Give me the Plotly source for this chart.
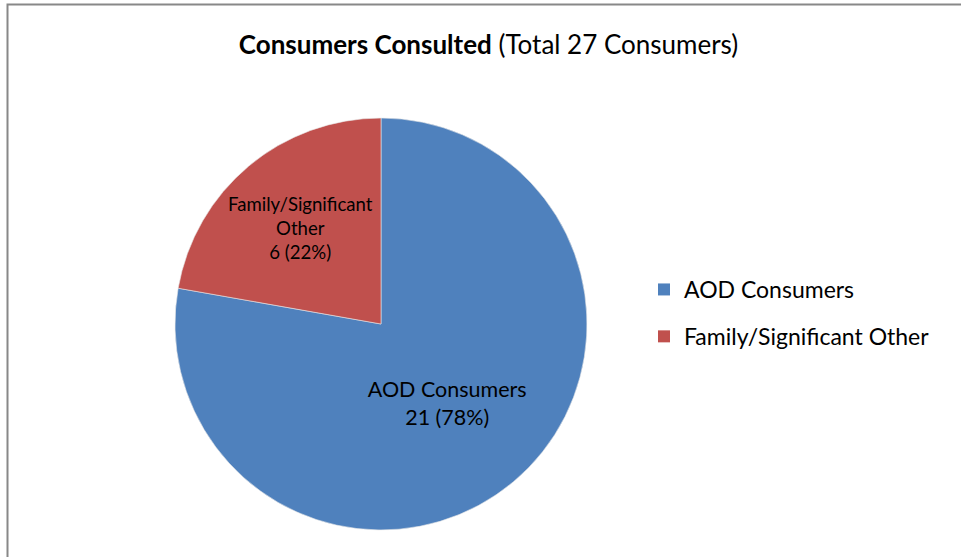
import plotly.graph_objects as go

categories = ["AOD Consumers", "Family/Significant Other"]
values = [21, 6]
slice_labels = ["AOD Consumers", "Family/Significant<br>Other"]
colors = ["#4F81BD", "#C0504D"]

W, H = 961, 557
cx, cy, r = 381, 324, 206
FONT = "Lato, Open Sans, sans-serif"

fig = go.Figure()
fig.add_trace(go.Pie(
    labels=categories,
    values=values,
    text=slice_labels,
    sort=False,
    direction="clockwise",
    rotation=0,
    showlegend=False,
    marker=dict(colors=colors, line=dict(color="#E8E8E8", width=0.6)),
    texttemplate="%{text}<br>%{value} (%{percent:.0%})",
    textposition="inside",
    insidetextorientation="horizontal",
    textfont=dict(family=FONT, size=21.5, color="#000000"),
    domain=dict(x=[(cx - r) / W, (cx + r) / W], y=[1 - (cy + r) / H, 1 - (cy - r) / H]),
    hoverinfo="label+value+percent",
))

# legend entries built from the categories
for i, (cat, col) in enumerate(zip(categories, colors)):
    fig.add_trace(go.Scatter(
        x=[None], y=[None], mode="markers", name=cat, legendgroup=f"g{i}",
        marker=dict(symbol="square", size=12, color=col),
        showlegend=True, hoverinfo="skip",
    ))

fig.update_layout(
    width=W, height=H,
    margin=dict(l=0, r=0, t=0, b=0),
    paper_bgcolor="white",
    plot_bgcolor="white",
    xaxis=dict(visible=False),
    yaxis=dict(visible=False),
    title=dict(
        text="<b>Consumers Consulted</b> (Total 27 Consumers)",
        x=488.5 / W, xanchor="center", y=1 - 45 / H, yanchor="middle",
        font=dict(family=FONT, size=26, color="#000000"),
    ),
    legend=dict(
        x=644 / W, xanchor="left", y=1 - 313 / H, yanchor="middle",
        font=dict(family=FONT, size=23, color="#000000"),
        itemsizing="constant", tracegroupgap=14, traceorder="grouped",
        bgcolor="rgba(0,0,0,0)",
    ),
    shapes=[dict(
        type="rect", xref="paper", yref="paper",
        x0=7.5 / W, x1=1.02, y0=-0.02, y1=1 - 4.5 / H,
        line=dict(color="#888888", width=2), fillcolor="rgba(0,0,0,0)",
    )],
)

fig.write_html(
    "out.html",
    config={"displayModeBar": False},
    post_script="document.body.style.margin='0';document.body.style.overflow='hidden';",
)
